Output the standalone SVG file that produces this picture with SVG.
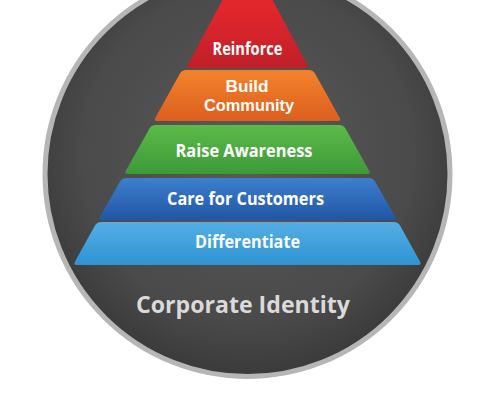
<svg xmlns="http://www.w3.org/2000/svg" width="495" height="400" viewBox="0 0 495 400">
<defs>
<radialGradient id="disk" cx="0.5" cy="0.45" r="0.55">
<stop offset="0" stop-color="#5a5a5a"/>
<stop offset="0.75" stop-color="#4a4a4a"/>
<stop offset="1" stop-color="#3a3a3a"/>
</radialGradient>
<linearGradient id="gRed" x1="0" y1="0" x2="0" y2="1"><stop offset="0.5" stop-color="#e1262c"/><stop offset="1" stop-color="#c01f29"/></linearGradient>
<linearGradient id="gOrange" x1="0" y1="0" x2="0" y2="1"><stop offset="0" stop-color="#f4822c"/><stop offset="1" stop-color="#dc5f1e"/></linearGradient>
<linearGradient id="gGreen" x1="0" y1="0" x2="0" y2="1"><stop offset="0" stop-color="#5cba48"/><stop offset="1" stop-color="#3d9a39"/></linearGradient>
<linearGradient id="gBlue" x1="0" y1="0" x2="0" y2="1"><stop offset="0" stop-color="#3c80cc"/><stop offset="1" stop-color="#2255a6"/></linearGradient>
<linearGradient id="gLight" x1="0" y1="0" x2="0" y2="1"><stop offset="0" stop-color="#55aee4"/><stop offset="1" stop-color="#2f93d2"/></linearGradient>
</defs>
<style>
.lbl{font-family:"Open Sans","Noto Sans","Liberation Sans",sans-serif;font-weight:bold;font-size:17px;fill:#ffffff;text-anchor:middle}
.tight{font-family:"Liberation Sans",Arial,sans-serif;font-size:16px}
.base{font-family:"Open Sans","Noto Sans","Liberation Sans",sans-serif;font-weight:bold;font-size:24px;fill:#dadada;text-anchor:middle}
</style>
<g id="circle">
<circle cx="247.5" cy="174" r="202.5" fill="url(#disk)" stroke="#b6b6b6" stroke-width="5"/>
</g>
<g id="tier-reinforce">
<path d="M247.5,-47 L307,64.5 Q309,68 305,68 H190 Q186,68 188,64.5 Z" fill="url(#gRed)"/>
<text class="lbl" x="247.5" y="55" textLength="70" lengthAdjust="spacingAndGlyphs">Reinforce</text>
</g>
<g id="tier-community">
<path d="M186,70 H309 Q313,70 315,73.5 L339.5,117.5 Q341.5,121 337.5,121 H157.5 Q153.5,121 155.5,117.5 L180,73.5 Q182,70 186,70 Z" fill="url(#gOrange)"/>
<text class="lbl tight" x="247" y="91.5" textLength="43" lengthAdjust="spacingAndGlyphs">Build</text>
<text class="lbl tight" x="249" y="110.5" textLength="90" lengthAdjust="spacingAndGlyphs">Community</text>
</g>
<g id="tier-awareness">
<path d="M155.5,125 H339.5 Q343.5,125 345.5,128.5 L369,170.5 Q371,174 367,174 H128 Q124,174 126,170.5 L149.5,128.5 Q151.5,125 155.5,125 Z" fill="url(#gGreen)"/>
<text class="lbl" x="244" y="157" textLength="137" lengthAdjust="spacingAndGlyphs">Raise Awareness</text>
</g>
<g id="tier-customers">
<path d="M126,178 H369 Q373,178 375,181.5 L395,216.5 Q397,220 393,220 H102 Q98,220 100,216.5 L120,181.5 Q122,178 126,178 Z" fill="url(#gBlue)"/>
<text class="lbl" x="245.5" y="205" textLength="157" lengthAdjust="spacingAndGlyphs">Care for Customers</text>
</g>
<g id="tier-differentiate">
<path d="M101,222 H394 Q398,222 400,225.5 L420,261.5 Q422,265 418,265 H77 Q73,265 75,261.5 L95,225.5 Q97,222 101,222 Z" fill="url(#gLight)"/>
<text class="lbl" x="247.5" y="248" textLength="105" lengthAdjust="spacingAndGlyphs">Differentiate</text>
</g>
<g id="corporate-identity">
<text class="base" x="243" y="313" textLength="214" lengthAdjust="spacingAndGlyphs">Corporate Identity</text>
</g>
</svg>
